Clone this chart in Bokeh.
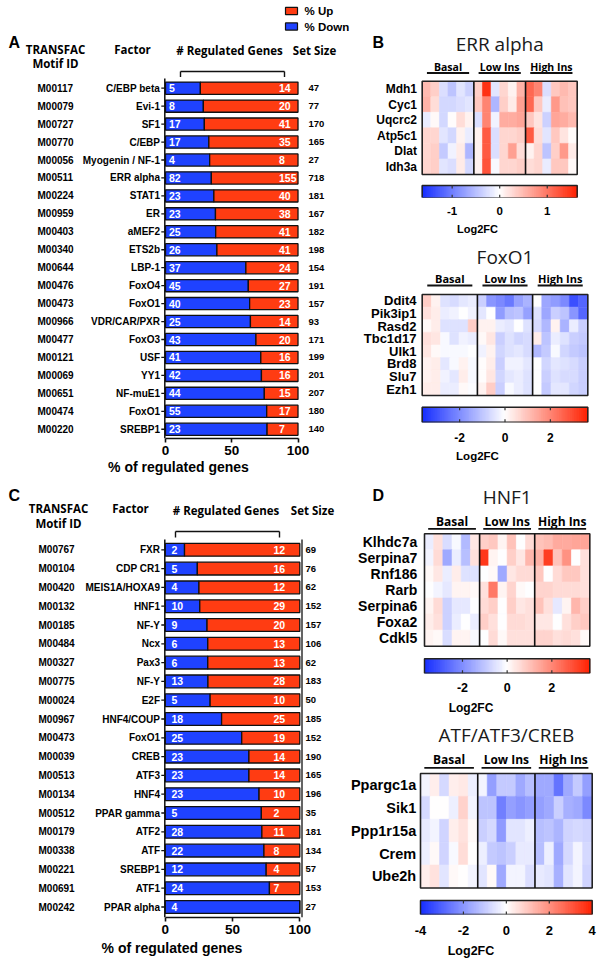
import numpy as np
from bokeh.plotting import figure
from bokeh.models import Range1d, LinearAxis, FixedTicker, ColumnDataSource, LinearColorMapper
from bokeh.layouts import row, column
from bokeh.embed import file_html
from bokeh.resources import INLINE
from bokeh.core.properties import value

# ---------------- DATA ----------------
a_ids = ["M00117", "M00079", "M00727", "M00770", "M00056", "M00511", "M00224", "M00959", "M00403", "M00340",
         "M00644", "M00476", "M00473", "M00966", "M00477", "M00121", "M00069", "M00651", "M00474", "M00220"]
a_factors = ["C/EBP beta", "Evi-1", "SF1", "C/EBP", "Myogenin / NF-1", "ERR alpha", "STAT1", "ER", "aMEF2", "ETS2b",
             "LBP-1", "FoxO4", "FoxO1", "VDR/CAR/PXR", "FoxO3", "USF", "YY1", "NF-muE1", "FoxO1", "SREBP1"]
a_down = [5, 8, 17, 17, 4, 82, 23, 23, 25, 26, 37, 45, 40, 25, 43, 41, 42, 44, 55, 23]
a_up = [14, 20, 41, 35, 8, 155, 40, 38, 41, 41, 24, 27, 23, 14, 20, 16, 16, 15, 17, 7]
a_set = [47, 77, 170, 165, 27, 718, 181, 167, 182, 198, 154, 191, 157, 93, 171, 199, 201, 207, 180, 140]

c_ids = ["M00767", "M00104", "M00420", "M00132", "M00185", "M00484", "M00327", "M00775", "M00024", "M00967",
         "M00473", "M00039", "M00513", "M00134", "M00512", "M00179", "M00338", "M00221", "M00691", "M00242"]
c_factors = ["FXR", "CDP CR1", "MEIS1A/HOXA9", "HNF1", "NF-Y", "Ncx", "Pax3", "NF-Y", "E2F", "HNF4/COUP",
             "FoxO1", "CREB", "ATF3", "HNF4", "PPAR gamma", "ATF2", "ATF", "SREBP1", "ATF1", "PPAR alpha"]
c_down = [2, 5, 4, 10, 9, 6, 6, 13, 5, 18, 25, 23, 23, 23, 5, 28, 22, 12, 24, 4]
c_up = [12, 16, 12, 29, 20, 13, 13, 28, 10, 25, 19, 14, 14, 10, 2, 11, 8, 4, 7, 0]
c_set = [69, 76, 62, 152, 157, 106, 62, 183, 50, 185, 152, 190, 165, 196, 35, 181, 134, 57, 153, 27]

groups = ["Basal", "Low Ins", "High Ins"]

err_genes = ["Mdh1", "Cyc1", "Uqcrc2", "Atp5c1", "Dlat", "Idh3a"]
err_vals = [
    [0.50, 0.35, -0.25, -0.45, -0.20, -0.35, 0.35, 1.50, -0.20, 0.30, 0.10, 0.55, 1.10, 0.90, -0.25, 0.40, 0.50, 0.40],
    [0.55, 0.25, -0.30, -0.30, -0.25, -0.20, 0.40, 0.90, -0.55, 0.35, 0.15, 0.70, 1.10, 0.40, -0.15, 0.75, 0.45, 0.40],
    [-0.15, 0.05, -0.30, 0.02, 0.25, 0.10, -0.25, 0.90, -0.10, 0.60, 0.60, 0.65, 0.40, 0.20, -0.35, 0.65, 0.60, 0.50],
    [0.30, 0.30, -0.20, -0.30, 0.10, -0.15, 0.10, 1.20, -0.25, 0.30, 0.30, 0.35, 1.20, 0.25, -0.20, 0.40, 0.20, 0.03],
    [0.30, 0.35, -0.40, -0.10, 0.15, -0.55, 0.10, 1.20, -0.25, 0.30, 0.70, 0.25, 0.10, 0.30, -0.45, 0.35, 0.75, 0.15],
    [0.30, 0.35, -0.20, -0.25, 0.15, -0.30, 0.10, 1.25, -0.05, 0.30, 0.30, 0.35, 0.25, 0.30, -0.15, 0.40, 0.40, 0.05],
]
err_ticks = [-1, 0, 1]

fox_genes = ["Ddit4", "Pik3ip1", "Rasd2", "Tbc1d17", "Ulk1", "Brd8", "Slu7", "Ezh1"]
fox_vals = [
    [0.8, 0.2, -0.5, -0.6, -0.4, -0.3, -0.8, -1.8, -2.0, -2.3, -1.6, -1.3, 0.0, -1.5, -1.7, -2.0, -3.0, -2.6],
    [0.5, 0.3, -0.3, -0.2, 0.0, -0.2, -0.4, 0.0, -1.7, -1.1, -1.0, -1.6, -0.5, -1.5, -0.8, -1.0, -1.8, -2.6],
    [0.1, 0.3, -0.5, -0.5, -0.5, 0.8, 0.2, 0.2, -0.3, -0.4, 0.0, -0.5, -0.6, -1.2, 0.2, -1.3, -0.3, -0.8],
    [0.5, 0.4, -0.1, -0.5, -0.2, -0.3, 0.1, 0.4, -0.8, -0.5, -0.7, -0.6, 0.3, -1.0, -0.3, -0.5, -0.8, -0.9],
    [0.4, 0.1, -0.1, -0.1, -0.1, 0.0, -0.2, 0.2, -0.7, -0.5, -0.4, -0.6, -1.2, -0.9, -0.1, -0.7, -0.9, -1.0],
    [0.2, 0.3, -0.4, -0.1, 0.2, -0.1, 0.05, 0.3, -0.8, -0.2, -0.2, -0.4, 0.0, -0.7, -0.4, -0.5, -0.6, -0.8],
    [0.2, 0.3, -0.2, -0.4, 0.3, -0.1, 0.05, 0.4, -0.7, -0.4, -0.3, -0.5, 0.0, -0.8, -0.5, -0.6, -0.6, -0.8],
    [0.3, 0.3, -0.3, -0.3, 0.1, -0.05, 0.2, 0.8, -0.8, -0.1, -0.3, -0.5, 0.0, -0.9, -0.4, -0.4, -0.7, -0.8],
]
fox_ticks = [-2, 0, 2]

hnf_genes = ["Klhdc7a", "Serpina7", "Rnf186", "Rarb", "Serpina6", "Foxa2", "Cdkl5"]
hnf_vals = [
    [-0.3, 0.5, -0.6, -0.1, -1.2, 0.4, 0.8, 0.9, 0.2, 1.0, 0.0, 0.6, 1.0, 1.1, 1.4, 1.4, 1.5, 1.5],
    [-0.2, 0.6, -1.5, -0.3, -1.1, 0.5, 3.3, 0.2, 0.0, 0.8, 0.4, 1.2, 1.3, 3.2, 1.0, 1.8, 0.0, 0.5],
    [0.1, 0.4, -0.3, 0.3, -0.5, -0.5, 0.0, 0.1, -1.5, 0.4, 0.6, 0.6, 0.9, 0.0, 0.6, 0.9, 0.9, 0.5],
    [0.0, -0.2, -0.4, 0.2, 0.2, 0.1, 0.5, 2.2, 0.2, 0.7, 0.1, 0.0, 0.7, 0.7, 0.6, 0.6, 0.6, 0.5],
    [0.2, 0.6, -0.8, -0.4, -0.4, 0.0, 0.6, 0.8, 0.0, 0.8, 0.4, 0.5, 1.0, 0.5, -0.4, 0.2, 1.2, 0.8],
    [0.3, 0.5, -0.8, -0.3, 0.0, -0.3, 0.8, 0.5, 0.0, 0.6, 0.6, 0.5, 0.4, 0.4, 0.0, 0.5, 0.8, 0.9],
    [0.2, 0.1, -0.6, 0.2, 0.2, -0.1, 0.0, 0.6, 0.1, 0.5, 0.5, 0.5, 0.7, 0.7, 0.5, 0.6, 0.5, 0.1],
]
hnf_ticks = [-2, 0, 2]

atf_genes = ["Ppargc1a", "Sik1", "Ppp1r15a", "Crem", "Ube2h"]
atf_vals = [
    [-0.2, 0.3, -0.7, 0.3, 0.4, -0.3, -0.2, -1.8, -1.0, -1.0, -1.6, -1.2, -1.6, -1.6, -2.6, -1.6, -1.0, -1.8],
    [-0.7, 0.0, 0.0, -0.3, 0.8, -0.2, -1.1, -1.1, -2.4, -1.8, -2.0, -1.8, -1.8, -1.6, -0.9, -1.5, -1.6, -2.2],
    [-0.4, -0.2, -0.8, 0.3, 0.5, 0.1, -0.9, -0.7, -1.9, -0.5, -0.5, -0.3, -1.2, -1.1, -1.4, -0.8, -0.7, -0.8],
    [-0.3, 0.1, -0.8, -0.1, 0.6, 0.0, -0.3, -1.0, -1.1, -0.9, -0.4, -0.4, -1.2, -0.3, -1.6, -0.7, -0.2, -0.7],
    [0.3, 0.5, -0.5, 0.1, 0.0, -0.2, -0.5, 0.1, -1.6, -0.2, -0.2, -0.6, -0.4, -0.5, -1.5, -0.5, -0.2, -0.8],
]
atf_ticks = [-4, -2, 0, 2, 4]

# ---------------- STYLE ----------------
ARIAL = "Liberation Sans"
OPEN = "Open Sans"
RED = "#FF3C12"
BLUE = "#1F42FF"
INK = "#111111"


def make_palette(n=256):
    b = np.array([18, 42, 255.0]); w = np.array([255, 255, 255.0]); r = np.array([255, 32, 0.0])
    out = []
    for t in np.linspace(0, 1, n):
        c = b + (w - b) * (t / 0.5) if t < 0.5 else w + (r - w) * ((t - 0.5) / 0.5)
        out.append("#%02x%02x%02x" % tuple(int(round(v)) for v in c))
    return out


PAL = make_palette()


def base_fig(W, H, fh, xr):
    p = figure(width=W, height=H, output_backend="svg", toolbar_location=None,
               x_range=xr, y_range=Range1d(fh, 0),
               x_axis_location=None, y_axis_location=None,
               min_border_left=0, min_border_right=0, min_border_top=0,
               min_border_bottom=H - fh)
    p.grid.visible = False
    p.outline_line_color = None
    p.background_fill_color = "white"
    p.border_fill_color = "white"
    return p


def add_text(p, x, y, text, size, align="left", bold=True, font=ARIAL, color="black", rn=None):
    src = ColumnDataSource(dict(x=list(x), y=list(y), t=list(text)))
    kw = {"x_range_name": rn} if rn else {}
    p.text(x="x", y="y", text="t", source=src, text_font=value(font), text_font_size=value(size),
           text_font_style="bold" if bold else "normal", text_align=align, text_baseline="middle",
           text_color=color, **kw)


def style_axis(ax, tick_size, lab_size, tick_stand, lab_stand, ticks):
    ax.major_label_text_font = ARIAL
    ax.major_label_text_font_style = "bold"
    ax.major_label_text_font_size = tick_size
    ax.major_label_text_color = "black"
    ax.axis_label_text_font = ARIAL
    ax.axis_label_text_font_style = "bold"
    ax.axis_label_text_font_size = lab_size
    ax.axis_label_text_color = "black"
    ax.major_label_standoff = tick_stand
    ax.axis_label_standoff = lab_stand
    ax.minor_tick_line_color = None
    ax.major_label_overrides = {t: str(t) for t in ticks}


def bar_panel(ids, factors, down, up, sizes, c):
    k = (c["X100"] - c["X0"]) / 100.0
    tx = lambda X: (X - c["X0"]) / k
    ty = lambda Y: Y - c["top"]
    fh = int(round(c["axisY"] - c["top"]))
    p = base_fig(c["W"], c["H"], fh, Range1d(tx(c["left"]), tx(c["left"] + c["W"])))
    n = len(factors)
    dn = np.array(down, float); upv = np.array(up, float)
    dpct = 100 * dn / (dn + upv)
    yc = ty(c["row0"]) + np.arange(n) * c["sp"]
    src = ColumnDataSource(dict(y=yc, zero=np.zeros(n), d=dpct, full=np.full(n, 100.0)))
    bh = 0.68 * c["sp"]
    p.hbar(y="y", left="zero", right="d", height=bh, source=src, fill_color=BLUE, line_color=INK, line_width=1.3)
    p.hbar(y="y", left="d", right="full", height=bh, source=src, fill_color=RED, line_color=INK, line_width=1.3)
    # value labels
    add_text(p, [tx(c["dnX"])] * n, yc, [str(v) for v in down], "10.5px", color="white")
    keep = [i for i in range(n) if up[i] > 0]
    add_text(p, [tx(c["upX"])] * len(keep), yc[keep], [str(up[i]) for i in keep], "10.5px", color="white")
    # left axis line with factor ticks
    p.segment(x0=[tx(c["yaxX"])], y0=[ty(c["yaxTop"])], x1=[tx(c["yaxX"])], y1=[fh], line_color=INK, line_width=1.5)
    p.segment(x0=[tx(c["yaxX"] - 3.5)] * n, y0=yc, x1=[tx(c["yaxX"])] * n, y1=yc, line_color=INK, line_width=1.3)
    add_text(p, [tx(c["facX"])] * n, yc, factors, c["facSize"], align="right")
    add_text(p, [tx(c["idX"])] * n, yc, ids, c["idSize"], align="left")
    add_text(p, [tx(c["setX"])] * n, yc, [str(s) for s in sizes], "9.5px", align="left")
    if c.get("rightLine"):
        p.segment(x0=[tx(c["rightLine"])], y0=[ty(c["yaxTop"])], x1=[tx(c["rightLine"])], y1=[fh],
                  line_color=INK, line_width=1.3)
    # headers
    for txt, X, Y in c["headers"]:
        add_text(p, [tx(X)], [ty(Y)], [txt], "11.5px", align="center", font=OPEN)
    bx0, bx1, by0, by1 = c["bracket"]
    p.segment(x0=[tx(bx0), tx(bx0), tx(bx1)], y0=[ty(by0)] * 3,
              x1=[tx(bx1), tx(bx0), tx(bx1)], y1=[ty(by0), ty(by1), ty(by1)], line_color=INK, line_width=1.4)
    add_text(p, [tx(c["letter"][1])], [ty(c["letter"][2])], [c["letter"][0]], "16px", align="left")
    if c.get("legend"):
        for (col, lab, Y) in [(RED, "% Up", 10.5), (BLUE, "% Down", 26)]:
            p.quad(left=[tx(285)], right=[tx(297)], top=[ty(Y - 3.6)], bottom=[ty(Y + 3.6)],
                   fill_color=col, line_color=INK, line_width=1.2)
            add_text(p, [tx(304)], [ty(Y)], [lab], "11.5px", align="left")
    ax = LinearAxis(ticker=FixedTicker(ticks=[0, 50, 100]), bounds=(0, 100), axis_label="% of regulated genes")
    ax.axis_line_width = 1.6
    ax.axis_line_color = INK
    ax.major_tick_line_width = 1.6
    ax.major_tick_line_color = INK
    ax.major_tick_in = 0
    ax.major_tick_out = 4
    style_axis(ax, "13.5px", "14px", c["tickStand"], c["labStand"], [0, 50, 100])
    p.add_layout(ax, "below")
    return p


def heat_panel(title, genes, vals, lo, hi, ticks, c):
    hx0, hx1 = c["hx"]; hy0, hy1 = c["hy"]; cb0, cb1 = c["cby"]
    ncol = len(vals[0]); nrow = len(genes)
    cw = (hx1 - hx0) / ncol
    tx = lambda X: (X - hx0) / cw
    ty = lambda Y: Y - c["top"]
    fh = int(round(cb1 - c["top"]))
    p = base_fig(c["W"], c["H"], fh, Range1d(tx(c["left"]), tx(c["left"] + c["W"])))
    ck = (hx1 - hx0) / (hi - lo)
    cx = lambda X: lo + (X - hx0) / ck
    p.extra_x_ranges = {"cb": Range1d(cx(c["left"]), cx(c["left"] + c["W"]))}
    mapper = LinearColorMapper(palette=PAL, low=lo, high=hi)
    rh = (hy1 - hy0) / nrow
    L, R, T, B, V = [], [], [], [], []
    for r in range(nrow):
        for j in range(ncol):
            L.append(j); R.append(j + 1)
            T.append(ty(hy0) + r * rh); B.append(ty(hy0) + (r + 1) * rh)
            V.append(vals[r][j])
    src = ColumnDataSource(dict(l=L, r=R, t=T, b=B, v=V))
    cmap = {"field": "v", "transform": mapper}
    p.quad(left="l", right="r", top="t", bottom="b", source=src, fill_color=cmap, line_color=cmap, line_width=0.6)
    p.quad(left=[0], right=[ncol], top=[ty(hy0)], bottom=[ty(hy1)], fill_color=None, line_color="#222222", line_width=1.6)
    gsize = ncol // len(groups)
    seps = [gsize * g for g in range(1, len(groups))]
    p.segment(x0=seps, y0=[ty(hy0)] * len(seps), x1=seps, y1=[ty(hy1)] * len(seps), line_color="#111111", line_width=1.6)
    # gene labels
    yc = [ty(hy0) + (r + 0.5) * rh for r in range(nrow)]
    add_text(p, [tx(c["geneX"])] * nrow, yc, genes, c["geneSize"], align="right")
    # title, groups
    add_text(p, [ncol / 2], [ty(c["titleY"])], [title], "19px", align="center", bold=False, font=OPEN, color="#1a1a1a")
    gcent = [gsize * g + gsize / 2 for g in range(len(groups))]
    add_text(p, gcent, [ty(c["groupY"])] * len(groups), groups, c["groupSize"], align="center", font=OPEN)
    hw = c["ulHalf"]
    p.segment(x0=[g - hw for g in gcent], y0=[ty(c["ulY"])] * len(groups), x1=[g + hw for g in gcent],
              y1=[ty(c["ulY"])] * len(groups), line_color="#111111", line_width=1.8)
    if c.get("letter"):
        add_text(p, [tx(c["letter"][1])], [ty(c["letter"][2])], [c["letter"][0]], "16px", align="left")
    # colour bar
    N = 240
    edges = np.linspace(lo, hi, N + 1)
    csrc = ColumnDataSource(dict(l=edges[:-1], r=edges[1:], v=(edges[:-1] + edges[1:]) / 2))
    ccm = {"field": "v", "transform": mapper}
    p.quad(left="l", right="r", top=ty(cb0), bottom=ty(cb1), source=csrc, fill_color=ccm, line_color=ccm,
           line_width=0.6, x_range_name="cb")
    p.quad(left=[lo], right=[hi], top=[ty(cb0)], bottom=[ty(cb1)], fill_color=None, line_color="#222222",
           line_width=1.5, x_range_name="cb")
    inner = [t for t in ticks if lo < t < hi]
    p.segment(x0=inner, y0=[ty(cb0)] * len(inner), x1=inner, y1=[ty(cb0) + 3] * len(inner),
              line_color="#333333", line_width=1.2, x_range_name="cb")
    p.segment(x0=inner, y0=[ty(cb1)] * len(inner), x1=inner, y1=[ty(cb1) - 3] * len(inner),
              line_color="#333333", line_width=1.2, x_range_name="cb")
    ax = LinearAxis(x_range_name="cb", ticker=FixedTicker(ticks=ticks), axis_label="Log2FC")
    ax.axis_line_color = None
    ax.major_tick_line_color = None
    style_axis(ax, c["tickSize"], c["labSize"], c["tickStand"], c["labStand"], ticks)
    p.add_layout(ax, "below")
    return p


cfgA = dict(top=0, left=0, W=356, H=478, axisY=437.5, X0=165, X100=297.5, row0=87.7, sp=17.95,
            dnX=168.5, upX=278.5, yaxX=164.3, yaxTop=78, facX=159.5, facSize="10px", idX=37, idSize="10px",
            setX=308, headers=[("TRANSFAC", 55, 49), ("Motif ID", 55, 63.3), ("Factor", 132, 49),
                               ("# Regulated Genes", 229, 50), ("Set Size", 314, 50)],
            bracket=(180, 284, 71, 76.5), letter=("A", 8, 42), legend=True, tickStand=3, labStand=1)
cfgC = dict(top=478, left=0, W=343, H=482, axisY=917, X0=164.8, X100=299.3, row0=549.3, sp=18.8,
            dnX=171, upX=273, yaxX=164.3, yaxTop=539, facX=159.5, facSize="10px", idX=38, idSize="10px",
            setX=305, rightLine=301.5,
            headers=[("TRANSFAC", 58, 507.5), ("Motif ID", 58, 523), ("Factor", 130, 508),
                     ("# Regulated Genes", 225.5, 509.5), ("Set Size", 312, 510)],
            bracket=(175, 279, 531, 537), letter=("C", 8, 495), tickStand=3, labStand=3)

cfgB1 = dict(top=0, left=356, W=242, H=240, hx=(421.7, 576.7), hy=(80.7, 174.0), cby=(185.0, 197.3),
             titleY=43, groupY=66, groupSize="10.5px", ulY=72.5, ulHalf=2.45, geneX=416.5, geneSize="12px",
             tickSize="11.5px", labSize="11px", tickStand=3, labStand=5, letter=("B", 372, 42))
cfgB2 = dict(top=240, left=356, W=242, H=238, hx=(421.7, 587.3), hy=(294.0, 395.0), cby=(406.7, 421.7),
             titleY=256.7, groupY=278, groupSize="11px", ulY=285, ulHalf=2.45, geneX=416, geneSize="13px",
             tickSize="12px", labSize="11.5px", tickStand=4, labStand=5)
cfgD1 = dict(top=478, left=343, W=255, H=240, hx=(424.0, 589.3), hy=(533.3, 645.7), cby=(658.3, 672.7),
             titleY=496.7, groupY=520.7, groupSize="12px", ulY=528.3, ulHalf=2.6, geneX=416.7, geneSize="14px",
             tickSize="12.5px", labSize="12px", tickStand=3, labStand=6, letter=("D", 372, 495))
cfgD2 = dict(top=718, left=343, W=255, H=242, hx=(420.0, 591.7), hy=(773.3, 888.3), cby=(901.0, 915.0),
             titleY=735, groupY=759.3, groupSize="12px", ulY=767.7, ulHalf=2.6, geneX=415.7, geneSize="14.5px",
             tickSize="13px", labSize="12.5px", tickStand=5, labStand=6)

figA = bar_panel(a_ids, a_factors, a_down, a_up, a_set, cfgA)
figC = bar_panel(c_ids, c_factors, c_down, c_up, c_set, cfgC)
figB1 = heat_panel("ERR alpha", err_genes, err_vals, -1.63, 1.63, err_ticks, cfgB1)
figB2 = heat_panel("FoxO1", fox_genes, fox_vals, -3.65, 3.65, fox_ticks, cfgB2)
figD1 = heat_panel("HNF1", hnf_genes, hnf_vals, -3.7, 3.7, hnf_ticks, cfgD1)
figD2 = heat_panel("ATF/ATF3/CREB", atf_genes, atf_vals, -4.0, 4.0, atf_ticks, cfgD2)

layout = column(row(figA, column(figB1, figB2)), row(figC, column(figD1, figD2)))
open("out.html", "w").write(file_html(layout, INLINE))
